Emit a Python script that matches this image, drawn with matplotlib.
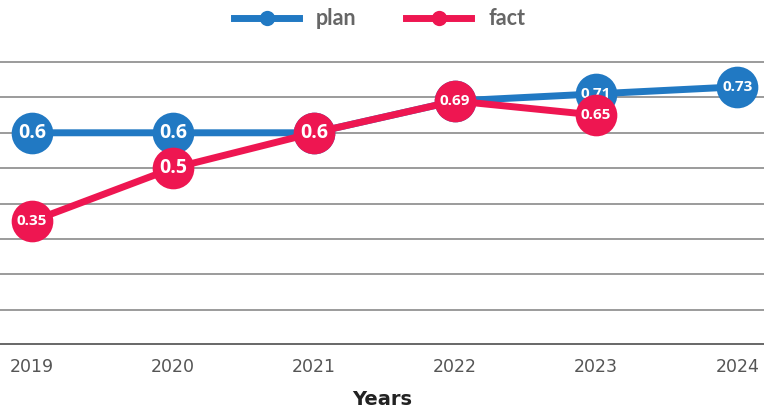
import matplotlib.pyplot as plt
from matplotlib.lines import Line2D

years = [2019, 2020, 2021, 2022, 2023, 2024]
plan = [0.6, 0.6, 0.6, 0.69, 0.71, 0.73]
fact = [0.35, 0.5, 0.6, 0.69, 0.65]
plan_labels = ["0.6", "0.6", "0.6", "0.69", "0.71", "0.73"]
fact_labels = ["0.35", "0.5", "0.6", "0.69", "0.65"]

blue = "#2179c3"
red = "#ee1651"

fig = plt.figure(figsize=(7.64, 4.12), dpi=100)
ax = fig.add_axes([0, 0.1626, 1, 0.716])

# horizontal grid
for y in [0.1, 0.2, 0.3, 0.4, 0.5, 0.6, 0.7, 0.8]:
    ax.axhline(y, color="#8a8a8a", lw=1.2, zorder=0)
ax.axhline(0, color="#6b6b6b", lw=3.6, zorder=1)

def draw_series(xs, vals, labels, color, z):
    ax.plot(xs, vals, color=color, lw=5, marker="o", ms=30,
            markeredgewidth=0, zorder=z, solid_capstyle="round")
    for x, v, t in zip(xs, vals, labels):
        ax.text(x, v, t, ha="center", va="center", color="white",
                fontsize=14 if len(t) <= 3 else 11, fontweight="bold",
                family="Open Sans", zorder=z + 1)

draw_series(years, plan, plan_labels, blue, 3)
draw_series(years[:len(fact)], fact, fact_labels, red, 5)

ax.set_xlim(2018.773, 2024.19)
ax.set_ylim(0, 0.834)
ax.set_yticks([])
ax.set_xticks(years)
ax.set_xticklabels([str(y) for y in years], fontsize=12.5, color="#555555")
ax.tick_params(axis="x", length=0, pad=9)
for s in ax.spines.values():
    s.set_visible(False)

fig.text(0.5, 0.008, "Years", ha="center", va="bottom", fontsize=14,
         fontweight="bold", color="#222222")

handles = [
    Line2D([], [], color=blue, lw=5, marker="o", ms=11, markeredgewidth=0),
    Line2D([], [], color=red, lw=5, marker="o", ms=11, markeredgewidth=0),
]
fig.legend(handles, ["plan", "fact"], loc="center", bbox_to_anchor=(0.497, 0.955),
           ncol=2, frameon=False, handlelength=3.0, handletextpad=0.8,
           columnspacing=2.3,
           prop={"family": "Lato", "weight": "bold", "size": 15.5},
           labelcolor="#666666")

fig.savefig("out.png", dpi=100)
